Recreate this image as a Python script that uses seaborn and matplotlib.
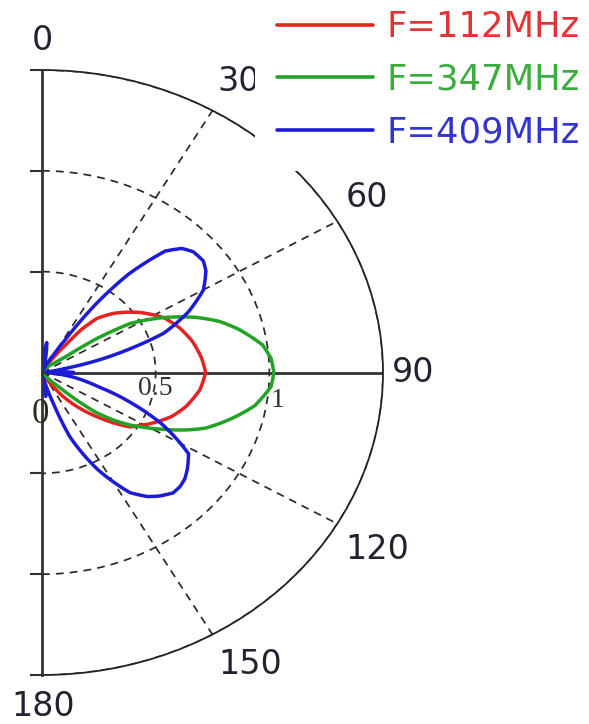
import numpy as np
import pandas as pd
import matplotlib
matplotlib.use("Agg")
import matplotlib.pyplot as plt
import seaborn as sns

# ---------------- data ----------------
series_labels = ["F=112MHz", "F=347MHz", "F=409MHz"]

red_theta = [0, 10, 20, 30, 34, 37, 39, 42, 47, 55, 63, 70, 77, 84, 90,
             97, 105, 111, 114, 119, 125, 132, 137, 142, 146, 150, 160, 170, 180]
red_r = [0, 0.005, 0.015, 0.04, 0.08, 0.16, 0.27, 0.36, 0.43, 0.52, 0.60, 0.645, 0.68, 0.705, 0.72,
         0.70, 0.655, 0.61, 0.58, 0.53, 0.47, 0.33, 0.24, 0.15, 0.06, 0.03, 0.015, 0.005, 0]

green_theta = [0, 10, 20, 30, 40, 47, 51, 53, 55, 58, 63, 68, 72, 76, 82, 86, 90,
               94, 100, 105, 108, 111, 114, 118, 121, 124, 127, 130, 132, 134, 138, 145, 160, 170, 180]
green_r = [0, 0.003, 0.008, 0.015, 0.03, 0.06, 0.09, 0.12, 0.29, 0.46, 0.60, 0.73, 0.82, 0.89, 0.98, 1.01, 1.02,
           1.01, 0.95, 0.87, 0.82, 0.77, 0.70, 0.60, 0.53, 0.465, 0.39, 0.30, 0.20, 0.10, 0.04, 0.02, 0.008, 0.003, 0]

blue_theta = [0, 4, 8, 12, 16, 20, 25, 30, 32, 35, 38, 42, 45, 48, 52, 55, 60, 65, 70, 73, 76, 79, 82, 85, 88, 90,
              92, 95, 99, 103, 106, 111, 116, 122, 127, 130, 133, 136, 140, 143, 147, 153, 159, 162, 165, 168,
              172, 176, 180]
blue_r = [0, 0.06, 0.15, 0.08, 0.02, 0.01, 0.03, 0.10, 0.18, 0.42, 0.62, 0.81, 0.87, 0.895, 0.90, 0.88, 0.82, 0.71,
          0.57, 0.41, 0.26, 0.10, 0.03, 0.02, 0.10, 0.14,
          0.10, 0.05, 0.13, 0.20, 0.26, 0.42, 0.59, 0.76, 0.80, 0.82, 0.83, 0.83, 0.80, 0.77, 0.71, 0.54, 0.34,
          0.16, 0.06, 0.03, 0.12, 0.06, 0]

theta_ticks = [0, 30, 60, 90, 120, 150, 180]
theta_ticklabels = ["0", "30", "60", "90", "120", "150", "180"]
r_ticks = [0.5, 1.0, 1.5]
r_label_values = [0, 0.5, 1.0]
r_label_texts = ["0", "0.5", "1"]
r_max = 1.5

# ---------------- style ----------------
line_colors = ["#e42222", "#22a326", "#1c1cd6"]
text_colors = ["#e23434", "#3aad3e", "#3434cf"]
label_color = "#222230"

sns.set_style("white")
plt.rcParams["font.family"] = ["DejaVu Sans"]

W_PX, H_PX = 589, 724
fig = plt.figure(figsize=(W_PX / 100, H_PX / 100), dpi=100)

cx, top_px, bot_px, rx_px = 42, 70, 675, 341
ax_w = 2 * rx_px
ax = fig.add_axes([(cx - ax_w / 4) / W_PX, (H_PX - bot_px) / H_PX,
                   ax_w / W_PX, (bot_px - top_px) / H_PX], projection="polar")
ax.set_theta_zero_location("N")
ax.set_theta_direction(-1)
ax.set_thetamin(0)
ax.set_thetamax(180)
ax.set_rlim(0, r_max)
ax.set_aspect("auto")

# ---------------- lines ----------------
frames = []
for lab, th, rr in zip(series_labels, [red_theta, green_theta, blue_theta], [red_r, green_r, blue_r]):
    frames.append(pd.DataFrame({"theta": np.deg2rad(th), "r": rr, "series": lab}))
df = pd.concat(frames, ignore_index=True)

sns.lineplot(data=df, x="theta", y="r", hue="series", palette=line_colors,
             sort=False, estimator=None, linewidth=2.5, ax=ax, legend=False)
# let the polar transform draw each segment as a curve in (theta, r)
for ln in ax.get_lines():
    ln.get_path()._interpolation_steps = 24
    ln.set_solid_joinstyle("round")
    ln.set_solid_capstyle("round")

# ---------------- grid / spines ----------------
ax.set_thetagrids(theta_ticks, labels=[""] * len(theta_ticks))
ax.set_rgrids(r_ticks, labels=[""] * len(r_ticks))
ax.grid(True, color="#2a2a2a", linestyle=(0, (4.5, 3.5)), linewidth=1.25)
for gl, t in zip(ax.xaxis.get_gridlines(), theta_ticks):
    if t in (0, 180):
        gl.set_visible(False)
    elif t == 90:
        gl.set_linestyle("-")
        gl.set_linewidth(2.0)
        gl.set_color("#333333")
for gl, r in zip(ax.yaxis.get_gridlines(), r_ticks):
    if r >= r_max:
        gl.set_visible(False)

ax.spines["polar"].set_color("#222222")
ax.spines["polar"].set_linewidth(1.3)
for s in ("start", "end"):
    ax.spines[s].set_color("#333333")
    ax.spines[s].set_linewidth(2.0)

ax.tick_params(axis="x", length=0)
ax.tick_params(axis="y", which="major", length=9, width=1.5, direction="out",
               color="#333333", left=True, right=True, labelleft=False, labelright=False)
ax.set_xlabel("")
ax.set_ylabel("")

# angle labels (offsets in pixels from the outer rim)
theta_label_offsets = [(0, 30), (26, 29), (30, 24), (30, 0), (40, -26), (38, -30), (1, -31)]
for t, lab, off in zip(theta_ticks, theta_ticklabels, theta_label_offsets):
    ax.annotate(lab, xy=(np.deg2rad(t), r_max), xytext=off, textcoords="offset pixels",
                ha="center", va="center", fontsize=24, color=label_color,
                family=["DejaVu Sans"], annotation_clip=False)

# radial labels along the 90 degree line
r_label_offsets = [(-2, -42), (0, -16), (8, -28)]
r_label_sizes = [25, 20, 20]
for v, lab, off, fs in zip(r_label_values, r_label_texts, r_label_offsets, r_label_sizes):
    ax.annotate(lab, xy=(np.pi / 2, v), xytext=off, textcoords="offset pixels",
                ha="center", va="center", fontsize=fs, color="#302a22" if v == 0 else "#333333",
                family=["Liberation Serif", "DejaVu Serif"], annotation_clip=False)

# ---------------- legend ----------------
handles = ax.get_lines()[:3]
leg = fig.legend(handles=handles, labels=series_labels, loc="upper right",
                 bbox_to_anchor=(602 / W_PX, 1.0 + 12 / H_PX), frameon=True, facecolor="white",
                 edgecolor="none", framealpha=1.0, fancybox=False, fontsize=25.5,
                 handlelength=2.7, handletextpad=0.4, labelspacing=0.53,
                 borderpad=0.62, borderaxespad=0.0)
for txt, c in zip(leg.get_texts(), text_colors):
    txt.set_color(c)
for ln in leg.get_lines():
    ln.set_linewidth(2.6)

fig.savefig("out.png", dpi=100)
